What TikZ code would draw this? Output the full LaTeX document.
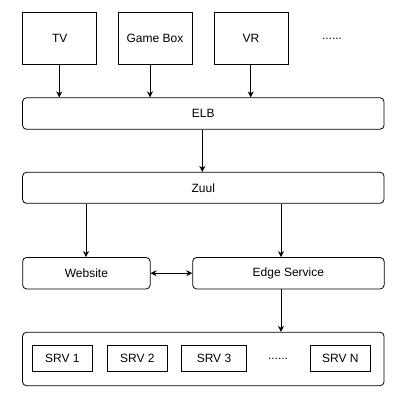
\documentclass[tikz,border=0pt]{standalone}
\usepackage{fontspec}
\setmainfont{Liberation Sans}
\usetikzlibrary{arrows.meta}
\begin{document}
\begin{tikzpicture}[x=1pt,y=-1pt,
  sq/.style={draw=black,line width=0.8pt,rectangle,inner sep=0pt,font=\fontsize{12}{14}\selectfont},
  rd/.style={sq,rounded corners=4pt},
  arr/.style={-{Stealth[length=6pt,width=6pt]},line width=0.8pt},
  dots/.style={font=\fontsize{12}{14}\selectfont}]
\useasboundingbox[fill=white] (0,0) rectangle (410,402);
% top row
\node[sq,minimum width=74pt,minimum height=51.5pt] (tv) at (59.7,38.5) {TV};
\node[sq,minimum width=74pt,minimum height=51.5pt] (gb) at (155,38.5) {Game Box};
\node[sq,minimum width=74pt,minimum height=51.5pt] (vr) at (251,38.5) {VR};
\node[dots] (dd) at (332,38.5) {......};
% ELB
\node[rd,minimum width=361.5pt,minimum height=31.5pt] (elb) at (203.3,113.5) {ELB};
% Zuul
\node[rd,minimum width=361.5pt,minimum height=31pt] (zuul) at (203.3,187.8) {Zuul};
% Website, Edge
\node[rd,minimum width=127.5pt,minimum height=31.5pt] (web) at (86.4,273.2) {Website};
\node[rd,minimum width=191.5pt,minimum height=31.5pt] (edge) at (288.4,273.2) {Edge Service};
% container
\node[rd,minimum width=361.5pt,minimum height=53.5pt] (cont) at (203.3,359) {};
\node[sq,minimum width=60pt,minimum height=26pt] (s1) at (62.3,358.7) {SRV 1};
\node[sq,minimum width=60pt,minimum height=26pt] (s2) at (137.3,358.7) {SRV 2};
\node[sq,minimum width=64.5pt,minimum height=26pt] (s3) at (214,358.7) {SRV 3};
\node[dots] (sd) at (278,358.7) {......};
\node[sq,minimum width=60.5pt,minimum height=26pt] (sn) at (340.3,358.7) {SRV N};
% arrows
\draw[arr] (tv.south -| 59.3,0) -- (elb.north -| 59.3,0);
\draw[arr] (gb.south -| 150,0) -- (elb.north -| 150,0);
\draw[arr] (vr.south -| 250.7,0) -- (elb.north -| 250.7,0);
\draw[arr] (elb.south -| 202.3,0) -- (zuul.north -| 202.3,0);
\draw[arr] (zuul.south -| 86,0) -- (web.north -| 86,0);
\draw[arr] (zuul.south -| 281,0) -- (edge.north -| 281,0);
\draw[{Stealth[length=6pt,width=6pt]}-{Stealth[length=6pt,width=6pt]},line width=0.8pt] (web.east) -- (edge.west);
\draw[arr] (edge.south -| 281,0) -- (cont.north -| 281,0);
\end{tikzpicture}
\end{document}
